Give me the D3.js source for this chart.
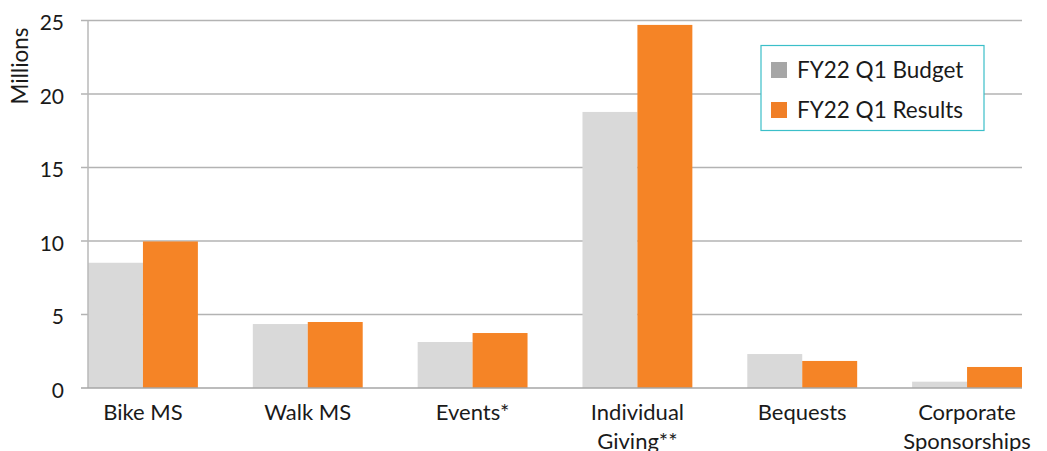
<!DOCTYPE html>
<html>
<head>
<meta charset="utf-8">
<script src="https://cdn.jsdelivr.net/npm/d3@7"></script>
<style>
  body { margin: 0; background: #fff; }
  svg { display: block; font-family: "Source Sans Pro", Lato, "Noto Sans", sans-serif; }
</style>
</head>
<body>
<svg width="1047" height="451"></svg>
<script>
const categories = [["Bike MS"], ["Walk MS"], ["Events*"], ["Individual", "Giving**"], ["Bequests"], ["Corporate", "Sponsorships"]];
const seriesNames = ["FY22 Q1 Budget", "FY22 Q1 Results"];
const budget = [8.52, 4.35, 3.13, 18.78, 2.31, 0.43];
const results = [9.97, 4.49, 3.74, 24.7, 1.84, 1.43];
const yTicks = [0, 5, 10, 15, 20, 25];

const svg = d3.select("svg");
const plotLeft = 88, plotRight = 1022, plotTop = 20.5, plotBottom = 388;

const keys = categories.map(c => c.join(" "));
const x0 = d3.scaleBand().domain(keys).range([plotLeft, plotRight]).paddingInner(1 / 3).paddingOuter(0);
const x1 = d3.scaleBand().domain(seriesNames).range([0, x0.bandwidth()]);
const y = d3.scaleLinear().domain([0, 25]).range([plotBottom, plotTop]);

const barColor = ["#d9d9d9", "#f58426"];
const swatchColor = ["#a6a6a6", "#f07f27"];

// gridlines
svg.append("g")
  .selectAll("line")
  .data(yTicks.filter(t => t > 0))
  .join("line")
  .attr("x1", plotLeft - 7).attr("x2", plotRight)
  .attr("y1", d => y(d)).attr("y2", d => y(d))
  .attr("stroke", "#b3b3b3").attr("stroke-width", 1.3);

// bars
const rows = keys.map((k, i) => ({ key: k, vals: [budget[i], results[i]] }));
svg.append("g")
  .selectAll("g")
  .data(rows)
  .join("g")
  .attr("transform", d => `translate(${x0(d.key)},0)`)
  .selectAll("rect")
  .data(d => d.vals.map((v, j) => ({ name: seriesNames[j], v, j })))
  .join("rect")
  .attr("x", d => x1(d.name))
  .attr("width", x1.bandwidth())
  .attr("y", d => y(d.v))
  .attr("height", d => y(0) - y(d.v))
  .attr("fill", d => barColor[d.j]);

// axes lines
svg.append("line")
  .attr("x1", plotLeft).attr("x2", plotLeft).attr("y1", plotTop).attr("y2", plotBottom)
  .attr("stroke", "#b8b8b8").attr("stroke-width", 1.5);
svg.append("line")
  .attr("x1", plotLeft - 7).attr("x2", plotRight).attr("y1", plotBottom).attr("y2", plotBottom)
  .attr("stroke", "#a6a6a6").attr("stroke-width", 1.5);

// y tick labels
svg.append("g")
  .selectAll("text")
  .data(yTicks)
  .join("text")
  .attr("x", 64)
  .attr("y", d => y(d) + 9.5)
  .attr("text-anchor", "end")
  .attr("font-size", 21)
  .attr("fill", "#1a1a1a")
  .text(d => d);

svg.append("text")
  .attr("transform", "translate(28,66) rotate(-90)")
  .attr("text-anchor", "middle")
  .attr("font-size", 22.5)
  .attr("fill", "#1a1a1a")
  .text("Millions");

// x labels
const xl = svg.append("g")
  .selectAll("text")
  .data(categories)
  .join("text")
  .attr("x", (d, i) => x0(keys[i]) + x0.bandwidth() / 2)
  .attr("y", 419.5)
  .attr("text-anchor", "middle")
  .attr("font-size", 22)
  .attr("fill", "#1a1a1a");
xl.selectAll("tspan")
  .data(d => d)
  .join("tspan")
  .attr("x", function () { return this.parentNode.getAttribute("x"); })
  .attr("dy", (d, i) => i === 0 ? 0 : 29.5)
  .text(d => d);

// legend
const lg = svg.append("g");
lg.append("rect")
  .attr("x", 761).attr("y", 45.5).attr("width", 223).attr("height", 85)
  .attr("fill", "#fff").attr("stroke", "#3bbfc9").attr("stroke-width", 1.2);
const li = lg.selectAll("g")
  .data(seriesNames)
  .join("g")
  .attr("transform", (d, i) => `translate(771,${62 + i * 40})`);
li.append("rect")
  .attr("width", 16).attr("height", 16)
  .attr("fill", (d, i) => swatchColor[i]);
li.append("text")
  .attr("x", 26).attr("y", 16)
  .attr("font-size", 22.5)
  .attr("fill", "#1a1a1a")
  .text(d => d);
</script>
</body>
</html>
